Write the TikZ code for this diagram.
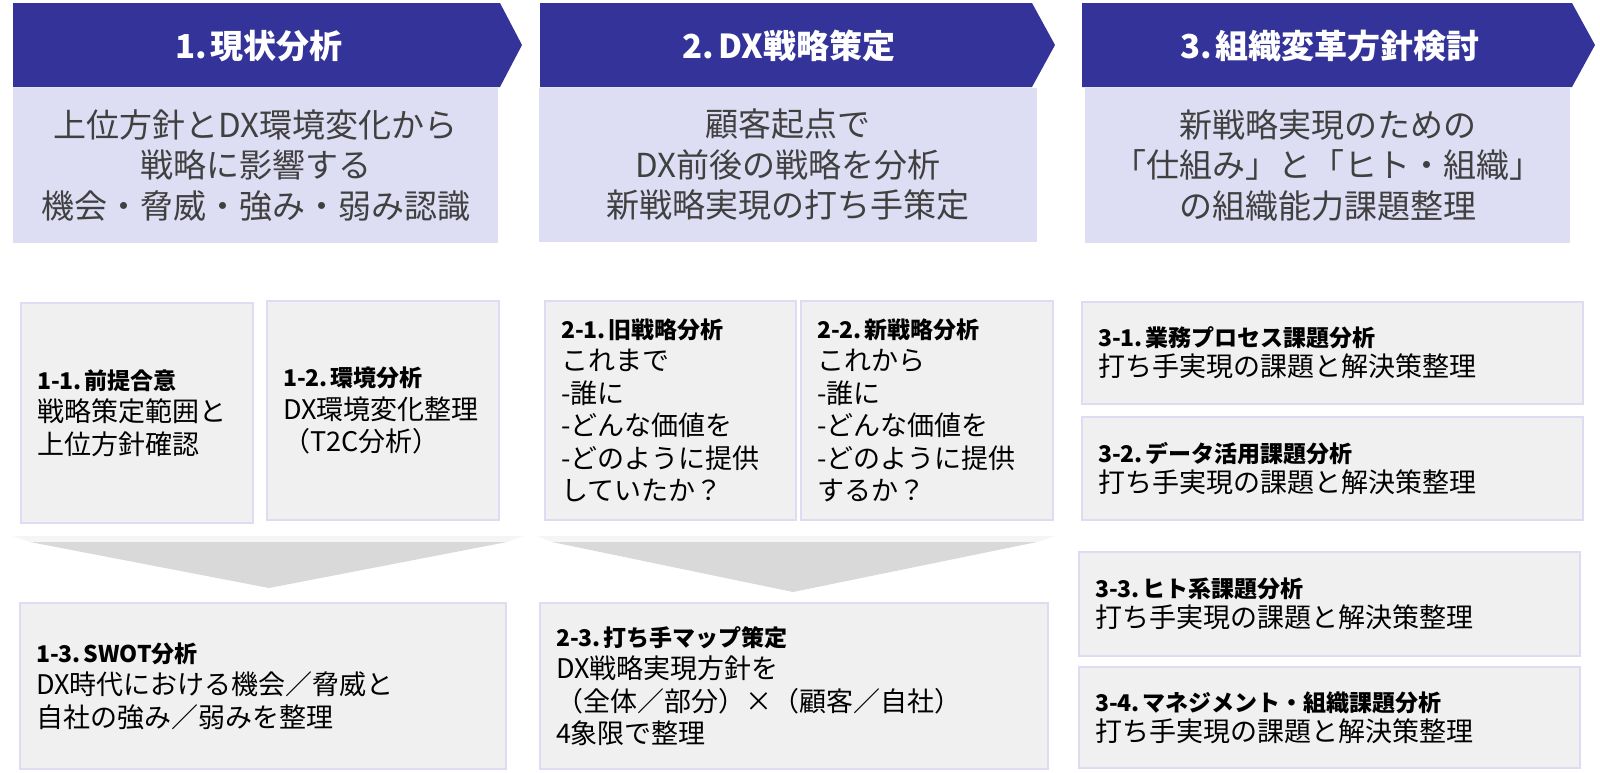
\documentclass[tikz,border=0pt]{standalone}
\usepackage{fontspec}
\setmainfont{Noto Sans CJK JP}
\definecolor{navy}{RGB}{51,51,153}
\definecolor{lav}{RGB}{221,221,243}
\definecolor{boxfill}{RGB}{240,240,240}
\definecolor{boxline}{RGB}{220,220,242}
\definecolor{subtxt}{RGB}{64,64,64}
\definecolor{arrowgray}{RGB}{217,217,217}
\definecolor{bandgray}{RGB}{245,245,245}
\begin{document}
\begin{tikzpicture}[x=1pt,y=-1pt,
  chev/.style={fill=navy},
  headtext/.style={text=white, font=\bfseries\fontsize{33}{40}\selectfont, inner sep=0pt},
  subbox/.style={fill=lav, draw=none, anchor=north west, inner sep=0pt, outer sep=0pt, align=center, text=subtxt, font=\fontsize{33}{40.5}\selectfont},
  lowbox/.style={draw=boxline, line width=2.5pt, fill=boxfill, anchor=north west, inner xsep=16pt, inner ysep=0pt, outer sep=0pt, align=left, text=black, font=\fontsize{27}{32.5}\selectfont},
  arrowband/.style={fill=bandgray},
  arrowtri/.style={fill=arrowgray}
]
\useasboundingbox (0,0) rectangle (1600,772);
\newcommand{\hd}[1]{{\bfseries\fontsize{23}{32.5}\selectfont #1}}
\newcommand{\gp}{\hspace{0.12em}}

% chevron headers
\fill[chev] (13,3) -- (500,3) -- (522,45) -- (500,87) -- (13,87) -- cycle;
\node[headtext] (h1) at (259,46) {1.\gp 現状分析};
\fill[chev] (540,3) -- (1032,3) -- (1055,45) -- (1032,87) -- (540,87) -- cycle;
\node[headtext] (h2) at (789,46) {2.\gp DX戦略策定};
\fill[chev] (1082,3) -- (1572,3) -- (1595,45) -- (1572,87) -- (1082,87) -- cycle;
\node[headtext] (h3) at (1330,46) {3.\gp 組織変革方針検討};

% sub boxes
\node[subbox, minimum width=485, minimum height=155] (s1) at (13,88)
  {上位方針とDX環境変化から\\戦略に影響する\\機会・脅威・強み・弱み認識};
\node[subbox, minimum width=498, minimum height=154] (s2) at (539,88)
  {顧客起点で\\DX前後の戦略を分析\\新戦略実現の打ち手策定};
\node[subbox, minimum width=485, minimum height=155] (s3) at (1085,88)
  {新戦略実現のための\\「仕組み」と「ヒト・組織」\\の組織能力課題整理};

% lower boxes column 1
\node[lowbox, text width=200, minimum height=220] (b11) at (21,303)
  {\hd{1-1.\gp 前提合意}\\戦略策定範囲と\\上位方針確認};
\node[lowbox, text width=200, minimum height=219] (b12) at (267,301)
  {\hd{1-2.\gp 環境分析}\\DX環境変化整理\\（T2C分析）};
\node[lowbox, text width=454, minimum height=166] (b13) at (20,603)
  {\hd{1-3.\gp SWOT分析}\\DX時代における機会／脅威と\\自社の強み／弱みを整理};

% lower boxes column 2
\node[lowbox, text width=219, minimum height=219] (b21) at (545,301)
  {\hd{2-1.\gp 旧戦略分析}\\これまで\\-誰に\\-どんな価値を\\-どのように提供\\していたか？};
\node[lowbox, text width=220, minimum height=219] (b22) at (801,301)
  {\hd{2-2.\gp 新戦略分析}\\これから\\-誰に\\-どんな価値を\\-どのように提供\\するか？};
\node[lowbox, text width=476, minimum height=166] (b23) at (540,603)
  {\hd{2-3.\gp 打ち手マップ策定}\\DX戦略実現方針を\\（全体／部分）×（顧客／自社）\\4象限で整理};

% lower boxes column 3
\node[lowbox, text width=469, minimum height=102, font=\fontsize{27}{30}\selectfont] (b31) at (1082,302)
  {\hd{3-1.\gp 業務プロセス課題分析}\\打ち手実現の課題と解決策整理};
\node[lowbox, text width=469, minimum height=103, font=\fontsize{27}{30}\selectfont] (b32) at (1082,417)
  {\hd{3-2.\gp データ活用課題分析}\\打ち手実現の課題と解決策整理};
\node[lowbox, text width=469, minimum height=104, font=\fontsize{27}{30}\selectfont] (b33) at (1079,552)
  {\hd{3-3.\gp ヒト系課題分析}\\打ち手実現の課題と解決策整理};
\node[lowbox, text width=469, minimum height=101, font=\fontsize{27}{30}\selectfont] (b34) at (1079,667)
  {\hd{3-4.\gp マネジメント・組織課題分析}\\打ち手実現の課題と解決策整理};

% gray down arrows
\fill[arrowband] (13,536) -- (524,536) -- (507,542) -- (30,542) -- cycle;
\fill[arrowtri] (30,542) -- (507,542) -- (269,588) -- cycle;
\fill[arrowband] (537,536) -- (1055,536) -- (1037,542) -- (552,542) -- cycle;
\fill[arrowtri] (552,542) -- (1037,542) -- (793,592) -- cycle;
\end{tikzpicture}
\end{document}
